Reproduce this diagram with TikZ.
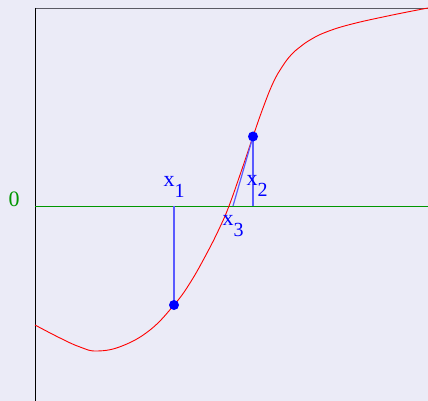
\documentclass[tikz,border=0pt]{standalone}
\usepackage{fontspec}
\setmainfont{Liberation Serif}
\definecolor{bgc}{RGB}{235,235,247}
\definecolor{axgreen}{RGB}{0,150,0}
\definecolor{lineblue}{RGB}{90,90,255}
\definecolor{topgray}{RGB}{90,90,100}
\begin{document}
\begin{tikzpicture}[x=1pt,y=-1pt,
  lbl/.style={anchor=base west,inner sep=0pt,text=blue,font=\fontsize{22}{22}\selectfont},
  dot/.style={circle,fill=blue,inner sep=0pt,minimum size=10pt},
  vline/.style={lineblue,line width=1.2pt}]
\fill[bgc] (0,0) rectangle (428,401);
\useasboundingbox (0,0) rectangle (428,401);
% frame
\draw[topgray,line width=1.5pt] (35,8.5) -- (428,8.5);
\draw[black,line width=1.2pt] (35.5,8) -- (35.5,401);
% zero line
\draw[axgreen,line width=0.9pt] (35,206) -- (428,206);
\node[anchor=base west,inner sep=0pt,text=axgreen,font=\fontsize{22}{22}\selectfont] (zero) at (8.5,206) {0};
% curve
\draw[red,line width=0.9pt] plot[smooth,tension=0.7] coordinates {(35,325) (60,338) (80,347) (97,351) (122,346) (150,330) (174,305) (190,283) (207,253) (220,227) (229,206) (241,172) (253,136.5) (263,108) (273,83) (282,67) (291,55) (300,47) (310,40) (325,32.5) (350,24.5) (390,15.5) (428,8)};
% points
\coordinate (F1) at (174,206);
\coordinate (F2) at (253,206);
\coordinate (X3) at (233,206);
\coordinate (P1c) at (174,305);
\coordinate (P2c) at (253,136.5);
\draw[vline] (F1) -- (P1c);
\draw[vline] (P2c) -- (F2);
\draw[vline] (P2c) -- (X3);
\node[dot] (P1) at (P1c) {};
\node[dot] (P2) at (P2c) {};
% labels
\node[lbl] (x1) at (163.5,186) {x\raisebox{-11pt}{\fontsize{20}{20}\selectfont 1}};
\node[lbl] (x2) at (246.5,185) {x\raisebox{-11pt}{\fontsize{20}{20}\selectfont 2}};
\node[lbl] (x3) at (222.5,225.5) {x\raisebox{-11pt}{\fontsize{20}{20}\selectfont 3}};
\end{tikzpicture}
\end{document}
